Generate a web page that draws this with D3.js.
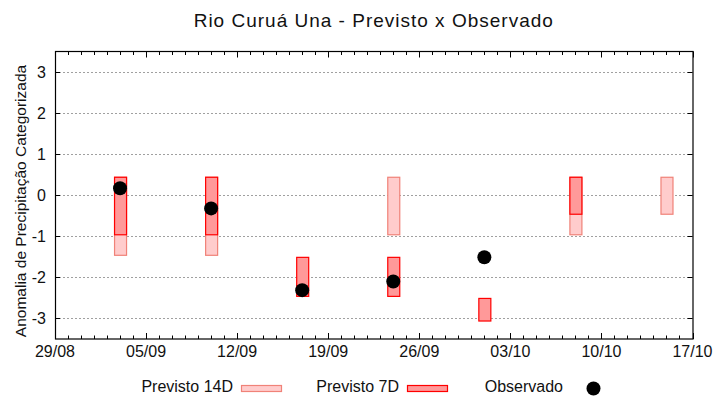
<!DOCTYPE html>
<html>
<head>
<meta charset="utf-8">
<script src="https://cdn.jsdelivr.net/npm/d3@7"></script>
<style>
  html, body { margin: 0; padding: 0; background: #fff; }
  svg { display: block; font-family: "Liberation Sans", Arial, sans-serif; }
</style>
</head>
<body>
<svg id="chart" width="720" height="400"></svg>
<script>
// ---- data ----
const dates = ["2023-09-03", "2023-09-10", "2023-09-17", "2023-09-24", "2023-10-01", "2023-10-08", "2023-10-15"];
const prev14Low  = [-1.45, -1.45, null, -0.95, null, -0.95, -0.45];
const prev14High = [ 0.45,  0.45, null,  0.45, null,  0.45,  0.45];
const prev7Low   = [-0.95, -0.95, -2.45, -2.45, -3.05, -0.45, null];
const prev7High  = [ 0.45,  0.45, -1.50, -1.50, -2.50,  0.45, null];
const observed   = [ 0.17, -0.32, -2.31, -2.10, -1.51, null, null];
const yTicks = [-3, -2, -1, 0, 1, 2, 3];
const xTickLabels = ["29/08", "05/09", "12/09", "19/09", "26/09", "03/10", "10/10", "17/10"];
const title = "Rio Curuá Una - Previsto x Observado";
const yLabel = "Anomalia de Precipitação Categorizada";
const legendLabels = ["Previsto 14D", "Previsto 7D", "Observado"];

// ---- setup ----
const parse = d3.timeParse("%Y-%m-%d");
const parseTick = d3.timeParse("%d/%m/%Y");
const svg = d3.select("#chart");
const L = 55, R = 692.5, T = 51.5, B = 339;
const x = d3.scaleTime().domain([parse("2023-08-29"), parse("2023-10-17")]).range([L, R]);
const y = d3.scaleLinear().domain([-3.5, 3.5]).range([B, T]);
const barW = 12;

const col14Fill = "#ffcccc", col14Stroke = "#f08278";
const col7Fill = "#ff9999", col7Stroke = "#ff0000";

// grid
svg.append("g").selectAll("line").data(yTicks).join("line")
  .attr("x1", L).attr("x2", R)
  .attr("y1", d => Math.round(y(d)) + 0.5).attr("y2", d => Math.round(y(d)) + 0.5)
  .attr("stroke", "#a0a0a0").attr("stroke-width", 1).attr("stroke-dasharray", "2,2");

// ticks
const days = d3.timeDay.range(x.domain()[0], d3.timeDay.offset(x.domain()[1], 1));
const majorDates = xTickLabels.map(s => parseTick(s + "/2023"));
const isMajor = d => majorDates.some(m => +m === +d);
const tickG = svg.append("g").attr("stroke", "#000").attr("stroke-width", 1);
days.forEach(d => {
  const px = Math.round(x(d)) + 0.5;
  const len = isMajor(d) ? 6 : 3.5;
  tickG.append("line").attr("x1", px).attr("x2", px).attr("y1", B).attr("y2", B - len);
  tickG.append("line").attr("x1", px).attr("x2", px).attr("y1", T).attr("y2", T + len);
});
yTicks.forEach(v => {
  const py = Math.round(y(v)) + 0.5;
  tickG.append("line").attr("x1", L).attr("x2", L + 5).attr("y1", py).attr("y2", py);
  tickG.append("line").attr("x1", R).attr("x2", R - 5).attr("y1", py).attr("y2", py);
});

// tick labels
svg.append("g").selectAll("text").data(majorDates).join("text")
  .attr("x", d => x(d)).attr("y", 357)
  .attr("text-anchor", "middle").attr("font-size", 16).attr("fill", "#111")
  .text((d, i) => xTickLabels[i]);
svg.append("g").selectAll("text").data(yTicks).join("text")
  .attr("x", 46).attr("y", d => y(d) + 5.5)
  .attr("text-anchor", "end").attr("font-size", 16).attr("fill", "#111")
  .text(d => d);

// bars 14D
const rows = dates.map((d, i) => ({
  date: parse(d), lo14: prev14Low[i], hi14: prev14High[i],
  lo7: prev7Low[i], hi7: prev7High[i], obs: observed[i]
}));
svg.append("g").selectAll("rect").data(rows.filter(r => r.lo14 != null)).join("rect")
  .attr("x", r => x(r.date) - barW / 2 + 0.5).attr("width", barW)
  .attr("y", r => y(r.hi14) + 0.5).attr("height", r => y(r.lo14) - y(r.hi14))
  .attr("fill", col14Fill).attr("stroke", col14Stroke).attr("stroke-width", 1.2);
svg.append("g").selectAll("rect").data(rows.filter(r => r.lo7 != null)).join("rect")
  .attr("x", r => x(r.date) - barW / 2 + 0.5).attr("width", barW)
  .attr("y", r => y(r.hi7) + 0.5).attr("height", r => y(r.lo7) - y(r.hi7))
  .attr("fill", col7Fill).attr("stroke", col7Stroke).attr("stroke-width", 1.2);
svg.append("g").selectAll("circle").data(rows.filter(r => r.obs != null)).join("circle")
  .attr("cx", r => x(r.date)).attr("cy", r => y(r.obs)).attr("r", 7)
  .attr("fill", "#000");

// border
svg.append("rect").attr("x", L + 0.5).attr("y", T).attr("width", R - L).attr("height", B - T)
  .attr("fill", "none").attr("stroke", "#000").attr("stroke-width", 1.2);

// title
svg.append("text").attr("x", (L + R) / 2).attr("y", 26.5).attr("text-anchor", "middle")
  .attr("font-size", 19).attr("letter-spacing", 1).attr("fill", "#111").text(title);

// y label
svg.append("text").attr("transform", "translate(26,201) rotate(-90)")
  .attr("text-anchor", "middle").attr("font-size", 15.5).attr("fill", "#111").text(yLabel);

// legend
const lg = svg.append("g").attr("font-size", 16).attr("fill", "#111");
lg.append("text").attr("x", 233).attr("y", 392).attr("text-anchor", "end").text(legendLabels[0]);
lg.append("rect").attr("x", 241.5).attr("y", 385.5).attr("width", 40).attr("height", 6)
  .attr("fill", col14Fill).attr("stroke", col14Stroke).attr("stroke-width", 1.2);
lg.append("text").attr("x", 399).attr("y", 392).attr("text-anchor", "end").text(legendLabels[1]);
lg.append("rect").attr("x", 407.5).attr("y", 385.5).attr("width", 40).attr("height", 6)
  .attr("fill", col7Fill).attr("stroke", col7Stroke).attr("stroke-width", 1.2);
lg.append("text").attr("x", 563).attr("y", 392).attr("text-anchor", "end").text(legendLabels[2]);
lg.append("circle").attr("cx", 593.5).attr("cy", 388.5).attr("r", 7).attr("fill", "#000");
</script>
</body>
</html>
